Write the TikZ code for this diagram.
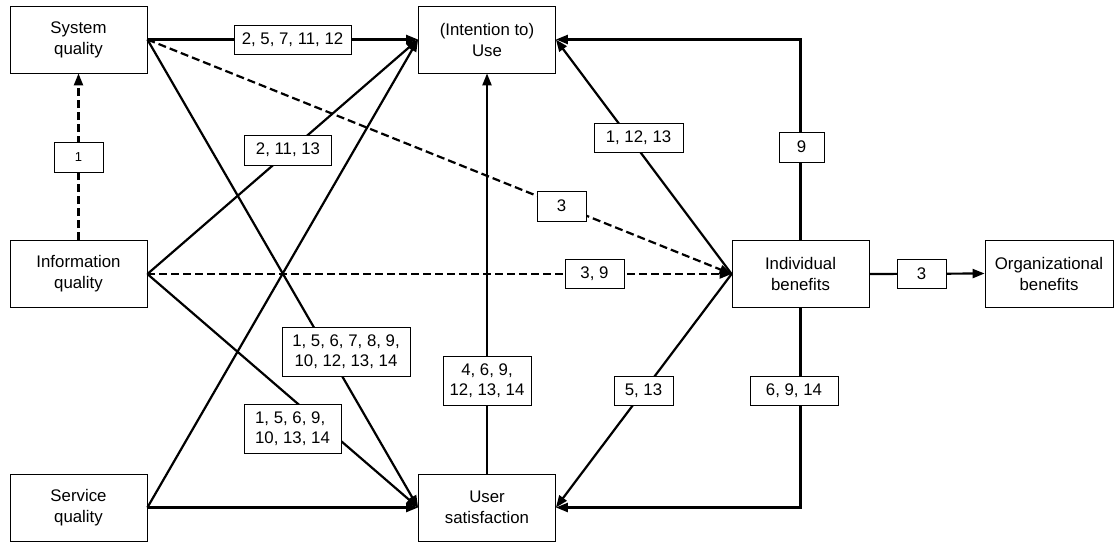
\documentclass[tikz,border=0pt]{standalone}
\usepackage{fontspec}
\setmainfont{Liberation Sans}
\usetikzlibrary{arrows.meta}
\begin{document}
\begin{tikzpicture}[x=1pt,y=-1pt,
  box/.style={draw, line width=0.8pt, minimum width=137pt, minimum height=67pt, inner sep=0pt, align=center, font=\fontsize{16.8}{21}\selectfont},
  lab/.style={draw, fill=white, line width=0.8pt, inner sep=0pt, align=center, font=\fontsize{16.8}{20}\selectfont},
  arr/.style={line width=2.2pt, -{Triangle[length=12pt,width=9pt]}},
  dsh/.style={arr, dash pattern=on 8pt off 4pt},
]
\useasboundingbox (0,0) rectangle (1114,544);
\node[box] (sq) at (78.5,39.5) {System\\quality};
\node[box] (iq) at (78.5,274) {Information\\quality};
\node[box] (svq) at (78.5,507.5) {Service\\quality};
\node[box] (use) at (487,39.5) {(Intention to)\\Use};
\node[box] (us) at (487,507.5) {User\\satisfaction};
\node[box] (ib) at (800.5,274) {Individual\\benefits};
\node[box, minimum width=128pt] (ob) at (1049,273.5) {Organizational\\benefits};

\draw[arr] (sq.east) -- (use.west);
\draw[arr] (sq.east) -- (us.west);
\draw[dsh] (sq.east) -- (ib.west);
\draw[arr] (iq.east) -- (use.west);
\draw[dsh] (iq.east) -- (ib.west);
\draw[arr] (iq.east) -- (us.west);
\draw[arr] (svq.east) -- (use.west);
\draw[arr] (svq.east) -- (us.west);
\draw[arr] (us.north) -- (use.south);
\draw[arr] (ib.west) -- (use.east);
\draw[arr] (ib.north) |- (use.east);
\draw[arr] (ib.west) -- (us.east);
\draw[arr] (ib.south) |- (us.east);
\draw[arr] (ib.east) -- (ob.west);
\draw[dsh] (iq.north) -- (sq.south);

\node[lab, minimum width=117pt, minimum height=29pt] (l1) at (292.5,39.5) {2, 5, 7, 11, 12};
\node[lab, minimum width=87pt, minimum height=30pt] (l2) at (288,150) {2, 11, 13};
\node[lab, minimum width=128pt, minimum height=49pt] (l3) at (346,351.5) {1, 5, 6, 7, 8, 9,\\10, 12, 13, 14};
\node[lab, minimum width=97pt, minimum height=49pt, align=left] (l4) at (292.5,429) {1, 5, 6, 9,\\10, 13, 14};
\node[lab, minimum width=88pt, minimum height=49pt] (l5) at (487,380.5) {4, 6, 9,\\12, 13, 14};
\node[lab, minimum width=89pt, minimum height=29pt] (l6) at (638.5,137.5) {1, 12, 13};
\node[lab, minimum width=45pt, minimum height=30pt] (l7) at (801.5,147) {9};
\node[lab, minimum width=49pt, minimum height=30pt] (l8) at (561.5,206) {3};
\node[lab, minimum width=59pt, minimum height=29pt] (l9) at (594.5,273.5) {3, 9};
\node[lab, minimum width=59pt, minimum height=29pt] (l10) at (643.5,390.5) {5, 13};
\node[lab, minimum width=88pt, minimum height=29pt] (l11) at (794,390.5) {6, 9, 14};
\node[lab, minimum width=49pt, minimum height=29pt] (l12) at (921.5,274) {3};
\node[lab, minimum width=49pt, minimum height=30pt, font=\fontsize{13}{15}\selectfont] (l13) at (78.5,157) {1};
\end{tikzpicture}
\end{document}
